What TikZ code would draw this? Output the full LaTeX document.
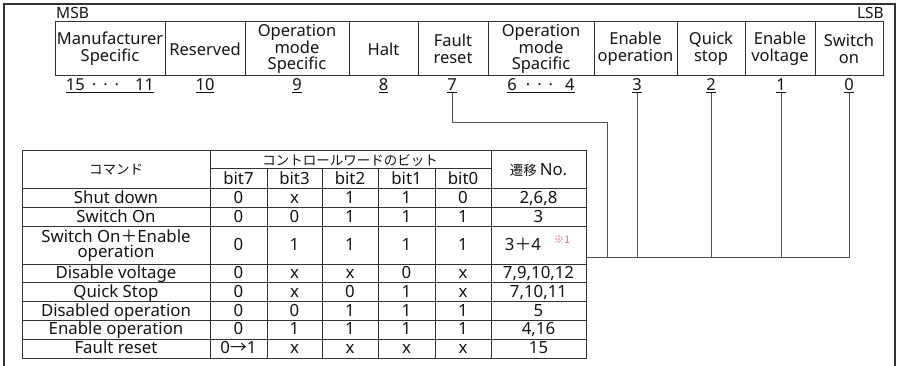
\documentclass[tikz,border=0pt]{standalone}
\usepackage{fontspec}
\setmainfont{Noto Sans}
\newfontfamily\jp{Noto Sans CJK JP}
\definecolor{ink}{HTML}{141414}
\definecolor{frame}{HTML}{333333}
\definecolor{wirec}{HTML}{505050}
\definecolor{notec}{HTML}{C8707E}
\begin{document}
\begin{tikzpicture}[x=1pt,y=-1pt,
  every node/.style={inner sep=0pt, text=ink},
  field/.style={draw=frame, line width=1pt, minimum height=54pt, align=center, font=\fontsize{16.5}{16.8}\selectfont},
  bitnum/.style={font=\fontsize{16.5}{16}\selectfont, anchor=base},
  smalllbl/.style={font=\fontsize{15.5}{15}\selectfont},
  cellt/.style={font=\fontsize{16.8}{15.5}\selectfont, align=center, text height=13pt, text depth=2.5pt},
  celltwo/.style={font=\fontsize{16.8}{15.5}\selectfont, align=center},
  jpt/.style={font=\jp\fontsize{13.5}{13.5}\selectfont},
  wire/.style={draw=wirec, line width=1pt},
  gridline/.style={draw=frame, line width=1pt}
]
\useasboundingbox (0,0) rectangle (897,366);
% outer frame
\draw[draw=frame, line width=1.2pt] (4,366) -- (4,4) -- (895,4) -- (895,366);

% MSB / LSB
\node[smalllbl, anchor=west] (msb) at (56,13) {MSB};
\node[smalllbl, anchor=east] (lsb) at (884,13) {LSB};

% control word fields
\node[field, minimum width=110pt] (f15) at (110,49) {Manufacturer\\Specific};
\node[field, minimum width=80pt]  (f10) at (205,49) {Reserved};
\node[field, minimum width=104pt] (f9)  at (297,49) {Operation\\mode\\Specific};
\node[field, minimum width=69pt]  (f8)  at (383.5,49) {Halt};
\node[field, minimum width=70pt]  (f7)  at (453,49) {Fault\\reset};
\node[field, minimum width=106pt] (f6)  at (541,49) {Operation\\mode\\Spacific};
\node[field, minimum width=83pt]  (f3)  at (635.5,49) {Enable\\operation};
\node[field, minimum width=68pt]  (f2)  at (711,49) {Quick\\stop};
\node[field, minimum width=70pt]  (f1)  at (780,49) {Enable\\voltage};
\node[field, minimum width=68pt]  (f0)  at (849,49) {Switch\\on};

% bit numbers
\node[bitnum] (n15) at (110,91) {\underline{15\hspace{7pt}·\hspace{7pt}·\hspace{7pt}·\hspace{16pt}11}};
\node[bitnum] (n10) at (205,91) {\underline{10}};
\node[bitnum] (n9)  at (297,91) {\underline{9}};
\node[bitnum] (n8)  at (383.5,91) {\underline{8}};
\node[bitnum] (n7)  at (452,91) {\underline{7}};
\node[bitnum] (n6)  at (541,91) {\underline{6\hspace{9pt}·\hspace{7pt}·\hspace{7pt}·\hspace{12pt}4}};
\node[bitnum] (n3)  at (637,91) {\underline{3}};
\node[bitnum] (n2)  at (711,91) {\underline{2}};
\node[bitnum] (n1)  at (781,91) {\underline{1}};
\node[bitnum] (n0)  at (849,91) {\underline{0}};

% command table grid
\draw[gridline] (22,151) rectangle (586,358);
\foreach \y in {188.5,207.5,226.5,264,282.5,301.5,320,339}
  \draw[gridline] (22,\y) -- (586,\y);
\draw[gridline] (210,169) -- (491,169);
\foreach \x in {210,491} \draw[gridline] (\x,151) -- (\x,358);
\foreach \x in {267,322,378,435} \draw[gridline] (\x,169) -- (\x,358);

% header
\node[jpt] (hcmd) at (116,170) {コマンド};
\node[jpt] (hcw) at (350,160) {コントロールワードのビット};
\node[jpt] (htr) at (538.5,170) {遷移 {\fontspec{Noto Sans}\fontsize{16.8}{16}\selectfont No.}};
\node[cellt] (hb7) at (238.5,179) {bit7};
\node[cellt] (hb3) at (294.5,179) {bit3};
\node[cellt] (hb2) at (350,179) {bit2};
\node[cellt] (hb1) at (406.5,179) {bit1};
\node[cellt] (hb0) at (463,179) {bit0};

% rows
\foreach \y/\c/\a/\b/\d/\e/\f/\t [count=\i] in {
  198/{Shut down}/0/x/1/1/0/{2,6,8},
  217/{Switch On}/0/0/1/1/1/{3},
  245.5/{}/0/1/1/1/1/{},
  273/{Disable voltage}/0/x/x/0/x/{7,9,10,12},
  292/{Quick Stop}/0/x/0/1/x/{7,10,11},
  311/{Disabled operation}/0/0/1/1/1/{5},
  329.5/{Enable operation}/0/1/1/1/1/{4,16},
  348.5/{Fault reset}/{0{\jp →}1}/x/x/x/x/{15}} {
  \node[cellt] (cmd\i) at (116,\y) {\c};
  \node[cellt] (r\i b7) at (238.5,\y) {\a};
  \node[cellt] (r\i b3) at (294.5,\y) {\b};
  \node[cellt] (r\i b2) at (350,\y) {\d};
  \node[cellt] (r\i b1) at (406.5,\y) {\e};
  \node[cellt] (r\i b0) at (463,\y) {\f};
  \node[cellt] (r\i tr) at (538.5,\y) {\t};
}
\node[celltwo] (cmd3b) at (116,245.5) {Switch On{\jp ＋}Enable\\operation};
\node[cellt] (r3sum) at (523,245.5) {3{\jp ＋}4};
\node[font=\jp\fontsize{10.5}{11}\selectfont, text=notec] (r3note) at (562,240) {※1};

% connectors
\coordinate (bus) at (849,258);
\coordinate (tblR) at (586,258);
\coordinate (bend) at (607,123);
\draw[wire] (n7.south) |- (bend) -- (bend |- bus);
\foreach \n in {n3,n2,n1,n0}
  \draw[wire] (\n.south) -- (\n.south |- bus);
\draw[wire] (tblR) -- (bus);
\end{tikzpicture}
\end{document}
